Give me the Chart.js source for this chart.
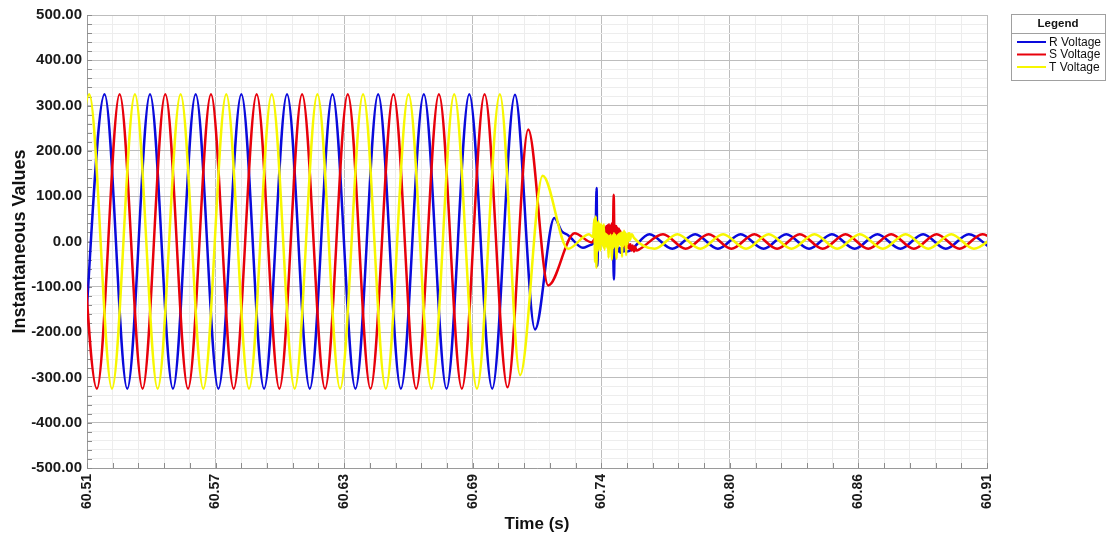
<!DOCTYPE html>
<html>
<head>
<meta charset="utf-8">
<title>Instantaneous Values</title>
<script src="https://cdn.jsdelivr.net/npm/chart.js@4.4.1/dist/chart.umd.min.js"></script>
<style>
  html, body { margin: 0; padding: 0; background: #fff; }
  canvas { display: block; }
</style>
</head>
<body>
<canvas id="myChart" width="1114" height="538"></canvas>
<script>
'use strict';

// * Tick labels of the time axis (8 equal divisions, as printed on the plot).
const xTickLabels = ['60.51', '60.57', '60.63', '60.69', '60.74', '60.80', '60.86', '60.91'];
const xMin = 60.51;
const xMax = 60.91;
const seriesLabels = ['R Voltage', 'S Voltage', 'T Voltage'];
const seriesColors = ['#0a0adc', '#e8000b', '#f7f700'];
// * Lower number is drawn on top (T over S over R).
const seriesOrder = [2, 1, 0];

// * Turning points [time (s), value] for each phase.
const rVoltage = [
  [60.5076, -325], [60.5178, 325], [60.5279, -325], [60.5380, 325], [60.5482, -325],
  [60.5583, 325], [60.5684, -325], [60.5786, 325], [60.5887, -325], [60.5989, 325],
  [60.6090, -325], [60.6191, 325], [60.6293, -325], [60.6394, 325], [60.6495, -325],
  [60.6597, 325], [60.6698, -325], [60.6799, 325], [60.6901, -325], [60.7002, 324],
  [60.7091, -194], [60.7177, 52], [60.7211, 22], [60.7238, 14], [60.7304, -14],
  [60.7336, -8], [60.7349, -5], [60.7360, 15], [60.7365, 118], [60.7368, -54],
  [60.7373, 20], [60.7378, 28], [60.7381, 18], [60.7385, 30], [60.7389, 20],
  [60.7393, 29], [60.7397, 18], [60.7401, 31], [60.7405, 21], [60.7409, 30],
  [60.7413, 22], [60.7417, 28], [60.7421, 20], [60.7425, 27], [60.7430, 18],
  [60.7436, 24], [60.7442, -84], [60.7446, 12], [60.7451, -8], [60.7456, -18],
  [60.7459, -12], [60.7463, -22], [60.7467, -14], [60.7471, -25], [60.7475, -15],
  [60.7479, -24], [60.7483, -14], [60.7487, -22], [60.7491, -13], [60.7495, -21],
  [60.7500, -22],
  [60.7600, 16], [60.7701, -16], [60.7803, 16], [60.7904, -16], [60.8005, 16],
  [60.8107, -16], [60.8208, 16], [60.8309, -16], [60.8411, 16], [60.8512, -16],
  [60.8613, 16], [60.8715, -16], [60.8816, 16], [60.8917, -16], [60.9019, 16],
  [60.9120, -16],
];

const sVoltage = [
  [60.5043, 325], [60.5144, -325], [60.5245, 325], [60.5347, -325], [60.5448, 325],
  [60.5549, -325], [60.5651, 325], [60.5752, -325], [60.5854, 325], [60.5955, -325],
  [60.6056, 325], [60.6158, -325], [60.6259, 325], [60.6360, -325], [60.6462, 325],
  [60.6563, -325], [60.6664, 325], [60.6766, -325], [60.6867, 325], [60.6969, -322],
  [60.7061, 247], [60.7150, -97], [60.7267, 18],
  [60.7344, -2], [60.7362, 10], [60.7370, -8], [60.7376, 14], [60.7384, -4],
  [60.7390, 20], [60.7396, 6], [60.7402, 30], [60.7405, 8], [60.7408, 34],
  [60.7411, 6], [60.7414, 36], [60.7417, 10], [60.7420, 38], [60.7423, 5],
  [60.7426, 35], [60.7429, 8], [60.7432, 40], [60.7435, 6], [60.7438, 33],
  [60.7441, 103], [60.7444, 18], [60.7447, 36], [60.7450, 6], [60.7453, 34],
  [60.7456, 8], [60.7459, 30], [60.7462, 4], [60.7465, 28], [60.7468, -4],
  [60.7471, 24], [60.7474, -6], [60.7477, 15], [60.7480, -8], [60.7485, 4],
  [60.7490, -12], [60.7495, -2], [60.7500, -14], [60.7505, -4], [60.7510, -16],
  [60.7515, -6], [60.7520, -20], [60.7525, -9], [60.7531, -22], [60.7536, -11],
  [60.7542, -20], [60.7559, -16],
  [60.7660, 16], [60.7761, -16], [60.7863, 16], [60.7964, -16], [60.8066, 16],
  [60.8167, -16], [60.8268, 16], [60.8370, -16], [60.8471, 16], [60.8572, -16],
  [60.8674, 16], [60.8775, -16], [60.8876, 16], [60.8978, -16], [60.9079, 16],
  [60.9180, -16],
];

const tVoltage = [
  [60.5009, -325], [60.5110, 325], [60.5211, -325], [60.5313, 325], [60.5414, -325],
  [60.5516, 325], [60.5617, -325], [60.5719, 325], [60.5820, -325], [60.5921, 325],
  [60.6023, -325], [60.6124, 325], [60.6225, -325], [60.6327, 325], [60.6428, -325],
  [60.6529, 325], [60.6631, -325], [60.6732, 325], [60.6833, -325], [60.6935, 325],
  [60.7025, -295], [60.7125, 145], [60.7238, -16], [60.7331, 16],
  [60.7349, 10], [60.7355, 50], [60.7358, -45], [60.7361, 55], [60.7364, -58],
  [60.7367, 42], [60.7370, -22], [60.7373, 45], [60.7376, -15], [60.7379, 38],
  [60.7382, -20], [60.7385, 40], [60.7388, -5], [60.7391, 35], [60.7394, -12],
  [60.7397, 38], [60.7400, -18], [60.7403, 18], [60.7406, -10], [60.7409, 16],
  [60.7412, -14], [60.7415, 14], [60.7418, -36], [60.7421, 12], [60.7424, -12],
  [60.7427, 15], [60.7430, -10], [60.7433, -40], [60.7436, 14], [60.7439, -15],
  [60.7442, 18], [60.7445, -10], [60.7448, 15], [60.7451, -14], [60.7454, -38],
  [60.7457, 14], [60.7460, -12], [60.7463, 16], [60.7466, -6], [60.7469, 18],
  [60.7472, -8], [60.7475, 20], [60.7478, -34], [60.7481, 20], [60.7484, -10],
  [60.7487, 24], [60.7490, -6], [60.7493, 20], [60.7496, -30], [60.7499, 16],
  [60.7502, -6], [60.7505, 18], [60.7508, 2], [60.7511, 18], [60.7514, 4],
  [60.7518, 14], [60.7522, 16], [60.7531, 8],
  [60.7623, -16], [60.7724, 16], [60.7826, -16], [60.7927, 16], [60.8029, -16],
  [60.8130, 16], [60.8231, -16], [60.8333, 16], [60.8434, -16], [60.8535, 16],
  [60.8637, -16], [60.8738, 16], [60.8839, -16], [60.8941, 16], [60.9042, -16],
  [60.9143, 16],
];

const FONT = "'Liberation Sans', Arial, sans-serif";
const MAJOR_GRID = '#bdbdbd';
const MINOR_GRID = '#ededed';

const toPoints = (pairs) => pairs.map(([x, y]) => ({ x, y }));

// * Short inward tick marks on the left and bottom edges, plus the boxed legend.
const framePlugin = {
  id: 'frame',
  beforeDatasetsDraw(chart) {
    const { ctx, chartArea: a, scales } = chart;
    ctx.save();
    ctx.strokeStyle = '#8c8c8c';
    ctx.lineWidth = 1;
    ctx.beginPath();
    scales.y.ticks.forEach((t) => {
      const y = Math.round(scales.y.getPixelForValue(t.value)) + 0.5;
      ctx.moveTo(a.left, y);
      ctx.lineTo(a.left + 5, y);
    });
    scales.x.ticks.forEach((t) => {
      const x = Math.round(scales.x.getPixelForValue(t.value)) + 0.5;
      ctx.moveTo(x, a.bottom);
      ctx.lineTo(x, a.bottom - 5);
    });
    ctx.stroke();
    ctx.restore();
  },
  afterDraw(chart) {
    const { ctx } = chart;
    const left = 1011, top = 14, width = 94, height = 66;
    ctx.save();
    ctx.fillStyle = '#fff';
    ctx.fillRect(left, top, width, height);
    ctx.strokeStyle = '#a0a0a0';
    ctx.lineWidth = 1;
    ctx.strokeRect(left + 0.5, top + 0.5, width, height);
    ctx.beginPath();
    ctx.moveTo(left, top + 19.5);
    ctx.lineTo(left + width, top + 19.5);
    ctx.stroke();

    ctx.fillStyle = '#111';
    ctx.textAlign = 'center';
    ctx.textBaseline = 'middle';
    ctx.font = `bold 11.5px ${FONT}`;
    ctx.fillText('Legend', left + width / 2, top + 10);

    ctx.textAlign = 'left';
    ctx.font = `12px ${FONT}`;
    chart.data.datasets.forEach((ds, i) => {
      const y = top + 28 + i * 12.5;
      ctx.strokeStyle = ds.borderColor;
      ctx.lineWidth = 2;
      ctx.beginPath();
      ctx.moveTo(left + 6, y);
      ctx.lineTo(left + 35, y);
      ctx.stroke();
      ctx.fillStyle = '#111';
      ctx.fillText(ds.label, left + 38, y + 0.5);
    });
    ctx.restore();
  },
};

const canvas = document.getElementById('myChart');
const ctx = canvas.getContext('2d');

new Chart(ctx, {
  type: 'line',
  data: {
    datasets: [rVoltage, sVoltage, tVoltage].map((pairs, i) => ({
      label: seriesLabels[i],
      data: toPoints(pairs),
      borderColor: seriesColors[i],
      backgroundColor: seriesColors[i],
      borderWidth: 2.5,
      pointRadius: 0,
      fill: false,
      cubicInterpolationMode: 'monotone',
      order: seriesOrder[i],
    })),
  },
  options: {
    responsive: false,
    animation: false,
    devicePixelRatio: 1,
    layout: { padding: { top: 15, right: 127, left: 0, bottom: 0 } },
    plugins: {
      legend: { display: false },
      tooltip: { enabled: false },
    },
    scales: {
      x: {
        type: 'linear',
        min: xMin,
        max: xMax,
        afterBuildTicks(scale) {
          const n = (xTickLabels.length - 1) * 5;
          scale.ticks = Array.from({ length: n + 1 }, (_, i) => ({ value: xMin + (i * (xMax - xMin)) / n }));
        },
        afterFit(scale) { scale.height = 70; },
        ticks: {
          autoSkip: false,
          minRotation: 90,
          maxRotation: 90,
          padding: 6,
          color: '#1a1a1a',
          font: { family: FONT, size: 14, weight: 'bold' },
          callback: (value, index) => (index % 5 === 0 ? xTickLabels[index / 5] : ''),
        },
        grid: {
          drawTicks: false,
          color: (c) => (c.index % 5 === 0 ? MAJOR_GRID : MINOR_GRID),
        },
        border: { display: true, color: '#9a9a9a' },
        title: {
          display: true,
          text: 'Time (s)',
          color: '#111',
          font: { family: FONT, size: 17, weight: 'bold' },
          padding: { top: 0, bottom: 3 },
        },
      },
      y: {
        min: -500,
        max: 500,
        afterFit(scale) { scale.width = 87; },
        ticks: {
          stepSize: 20,
          autoSkip: false,
          padding: 5,
          color: '#1a1a1a',
          font: { family: FONT, size: 15, weight: 'bold' },
          callback: (value) => (value % 100 === 0 ? value.toFixed(2) : ''),
        },
        grid: {
          drawTicks: false,
          color: (c) => (c.tick && c.tick.value % 100 === 0 ? MAJOR_GRID : MINOR_GRID),
        },
        border: { display: true, color: '#9a9a9a' },
        title: {
          display: true,
          text: 'Instantaneous Values',
          color: '#111',
          font: { family: FONT, size: 18, weight: 'bold' },
          padding: { top: 9, bottom: 0 },
        },
      },
    },
  },
  plugins: [framePlugin],
});
</script>
</body>
</html>
